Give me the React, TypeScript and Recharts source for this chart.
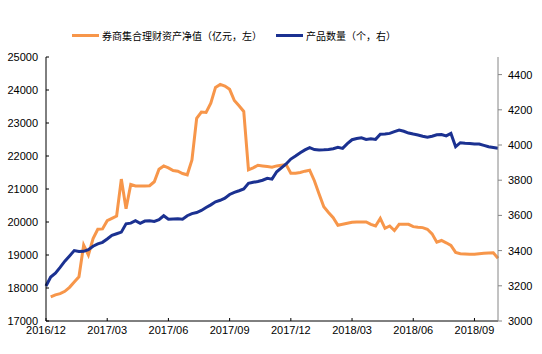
import { LineChart, Line, XAxis, YAxis } from 'recharts';

// weekly points, index 0 = 2016/12
const weeks = Array.from({ length: 97 }, (_, i) => i);

const tickIdx = [0, 13, 26, 39, 52, 65, 78, 91];
const tickLabels = ['2016/12', '2017/03', '2017/06', '2017/09', '2017/12', '2018/03', '2018/06', '2018/09'];

// 券商集合理财资产净值（亿元）
const netValue: (number | null)[] = [
  null, 17730, 17790, 17830, 17900, 18020, 18180, 18340, 19300, 19000,
  19500, 19780, 19790, 20040, 20110, 20180, 21300, 20400, 21140, 21090,
  21090, 21090, 21100, 21220, 21600, 21700, 21640, 21560, 21540, 21470,
  21430, 21880, 23140, 23330, 23320, 23600, 24080, 24170, 24120, 24020,
  23680, 23520, 23350, 21580, 21640, 21720, 21700, 21680, 21660, 21700,
  21720, 21740, 21480, 21480, 21500, 21540, 21570, 21250, 20850, 20460,
  20290, 20130, 19900, 19930, 19960, 19990, 20000, 20000, 20000, 19930,
  19880, 20110, 19810, 19880, 19740, 19930, 19930, 19930, 19860, 19840,
  19830, 19780, 19640, 19390, 19440, 19370, 19290, 19080, 19040, 19030,
  19020, 19020, 19040, 19050, 19060, 19070, 18900,
];

// 产品数量（个）
const productCount = [
  3199, 3250, 3272, 3305, 3340, 3370, 3400, 3395, 3396, 3405,
  3425, 3438, 3447, 3466, 3487, 3496, 3505, 3552, 3556, 3570,
  3555, 3568, 3570, 3566, 3576, 3598, 3578, 3580, 3581, 3578,
  3598, 3610, 3616, 3628, 3645, 3660, 3677, 3686, 3698, 3719,
  3731, 3740, 3750, 3782, 3788, 3793, 3800, 3811, 3806, 3848,
  3870, 3892, 3920, 3937, 3956, 3972, 3985, 3974, 3972, 3973,
  3975, 3979, 3987, 3981, 4008, 4030, 4037, 4041, 4032, 4035,
  4032, 4061, 4062, 4066, 4076, 4085, 4078, 4068, 4062, 4057,
  4050, 4044, 4050, 4058, 4060, 4052, 4066, 3990, 4013, 4010,
  4008, 4006, 4006, 3998, 3990, 3986, 3981,
];

const leftTicks = [17000, 18000, 19000, 20000, 21000, 22000, 23000, 24000, 25000];
const rightTicks = [3000, 3200, 3400, 3600, 3800, 4000, 4200, 4400];

const seriesNames = ['券商集合理财资产净值（亿元，左）', '产品数量（个，右）'];
const ORANGE = '#F7964A';
const BLUE = '#1B3191';

const data = weeks.map((w, i) => ({ idx: w, nav: netValue[i], cnt: productCount[i] }));

const tickFont = { fontSize: 11, fontFamily: '"Liberation Sans", Arial, sans-serif', fill: '#000' };

export default function App() {
  return (
    <div style={{ position: 'absolute', left: 0, top: 0, width: 542, height: 354, background: '#fff' }}>
      <div style={{ position: 'absolute', top: 28, left: 72, display: 'flex', alignItems: 'center', fontFamily: '"Noto Sans CJK SC", sans-serif', fontSize: 10, color: '#000', whiteSpace: 'nowrap' }}>
        <span style={{ display: 'inline-block', width: 27, height: 3, background: ORANGE, marginRight: 3 }} />
        <span>{seriesNames[0]}</span>
        <span style={{ display: 'inline-block', width: 27, height: 3, background: BLUE, marginLeft: 14, marginRight: 3 }} />
        <span>{seriesNames[1]}</span>
      </div>
      <LineChart width={542} height={354} data={data} margin={{ top: 57, right: 0, bottom: 0, left: 0 }}>
        <XAxis
          dataKey="idx"
          type="number"
          domain={[0, 96]}
          ticks={tickIdx}
          interval={0}
          tickFormatter={(v: number) => tickLabels[tickIdx.indexOf(v)]}
          height={33}
          tickSize={-3}
          tickMargin={8}
          tick={tickFont}
          axisLine={{ stroke: '#000' }}
          tickLine={{ stroke: '#000' }}
        />
        <YAxis
          yAxisId="left"
          orientation="left"
          width={46}
          domain={[17000, 25000]}
          ticks={leftTicks}
          interval={0}
          tickSize={-3}
          tickMargin={11}
          tick={tickFont}
          axisLine={{ stroke: '#000' }}
          tickLine={{ stroke: '#000' }}
        />
        <YAxis
          yAxisId="right"
          orientation="right"
          width={44}
          domain={[3000, 4500]}
          ticks={rightTicks}
          interval={0}
          tickSize={4}
          tickMargin={6}
          tick={tickFont}
          axisLine={{ stroke: '#868686' }}
          tickLine={{ stroke: '#868686' }}
        />
        <Line yAxisId="left" type="linear" dataKey="nav" name={seriesNames[0]} stroke={ORANGE} strokeWidth={3} dot={false} isAnimationActive={false} />
        <Line yAxisId="right" type="linear" dataKey="cnt" name={seriesNames[1]} stroke={BLUE} strokeWidth={3} dot={false} isAnimationActive={false} />
      </LineChart>
    </div>
  );
}
